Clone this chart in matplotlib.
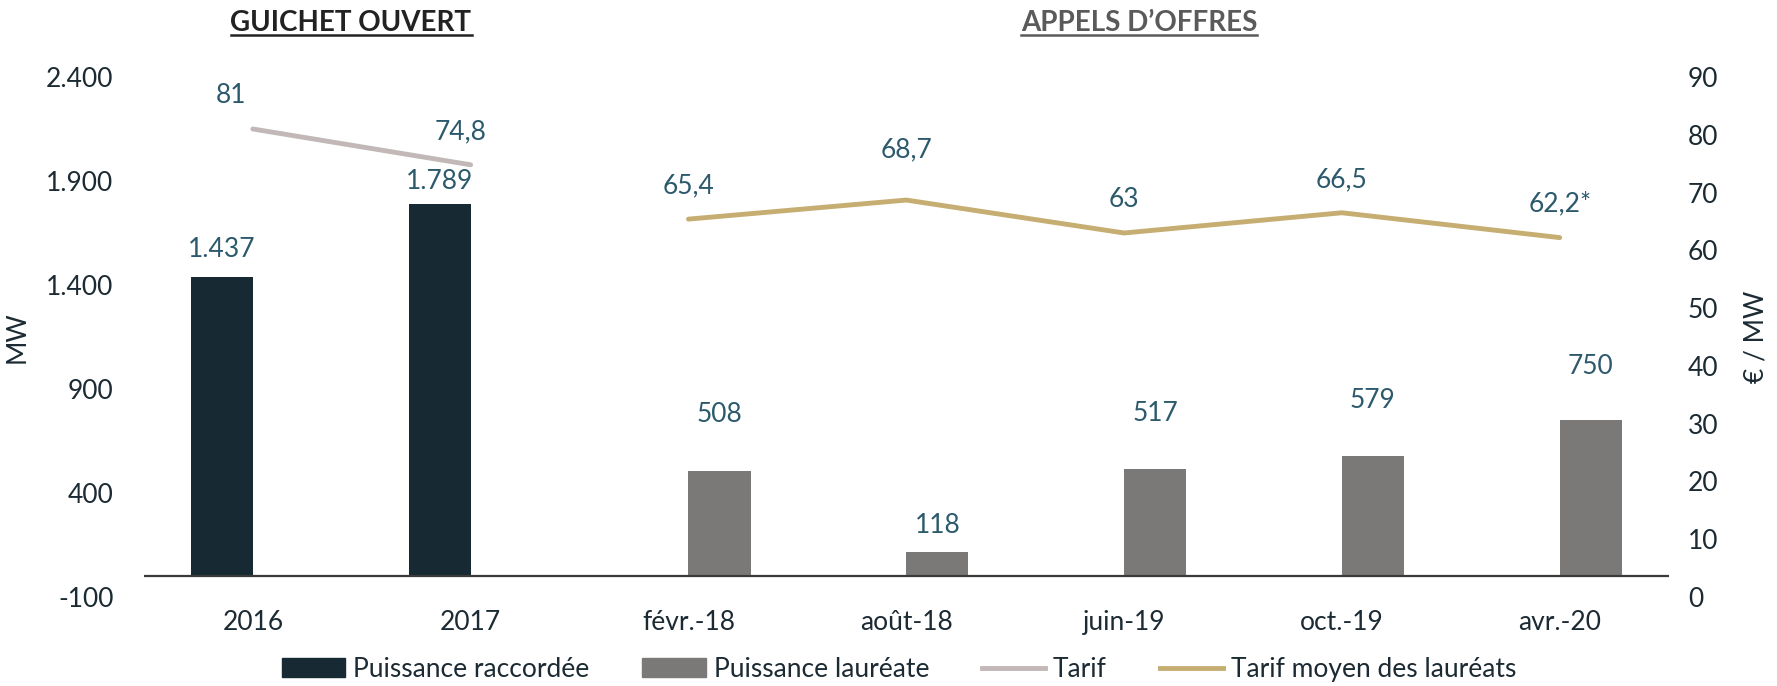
import matplotlib.pyplot as plt
import numpy as np
from matplotlib.lines import Line2D
from matplotlib.patches import Patch

#------------ donnees ----------
categories = ['2016', '2017', 'févr.-18', 'août-18', 'juin-19', 'oct.-19', 'avr.-20']
raccordee = [1437, 1789, None, None, None, None, None]
laureate = [None, None, 508, 118, 517, 579, 750]
tarif = [81, 74.8, None, None, None, None, None]
tarif_moyen = [None, None, 65.4, 68.7, 63, 66.5, 62.2]
tarif_moyen_txt = ['65,4', '68,7', '63', '66,5', '62,2*']
tarif_txt = ['81', '74,8']

#------------ styles ----------
c_racc = '#172a33'
c_laur = '#7b7977'
c_tarif = '#c2b8b8'
c_moy = '#c6ad72'
c_val = '#2c5a6c'
c_txt = '#1c2b33'

plt.rcParams['font.family'] = ['Lato', 'DejaVu Sans']
fs = 19

fig = plt.figure(figsize=(17.77, 6.86), dpi=100)
ax = fig.add_axes([0.081, 0.1297, 0.858, 0.7581])
ax2 = ax.twinx()

x = np.arange(len(categories))
w = 0.285

def fmt(v):
  return '{:,}'.format(v).replace(',', '.')

# barres
xr = [x[i] - w/2 for i in range(len(x)) if raccordee[i] is not None]
yr = [v for v in raccordee if v is not None]
xl = [x[i] + w/2 for i in range(len(x)) if laureate[i] is not None]
yl = [v for v in laureate if v is not None]
ax.bar(xr, yr, width=w, color=c_racc, zorder=2)
ax.bar(xl, yl, width=w, color=c_laur, zorder=2)
ax.axhline(0, color='#3a3a3a', lw=1.6, zorder=3)

# etiquettes des barres (decalage vertical en points)
dy_racc = [20, 16]
dy_laur = [40, 19, 40, 40, 39]
for xi, yi, d in zip(xr, yr, dy_racc):
  ax.annotate(fmt(yi), (xi, yi), xytext=(0, d), textcoords='offset points',
              ha='center', va='center', color=c_val, fontsize=fs)
for xi, yi, d in zip(xl, yl, dy_laur):
  ax.annotate(fmt(yi), (xi, yi), xytext=(0, d), textcoords='offset points',
              ha='center', va='center', color=c_val, fontsize=fs)

# courbes
xt = [x[i] for i in range(len(x)) if tarif[i] is not None]
yt = [v for v in tarif if v is not None]
xm = [x[i] for i in range(len(x)) if tarif_moyen[i] is not None]
ym = [v for v in tarif_moyen if v is not None]
ax2.plot(xt, yt, color=c_tarif, lw=3.5, solid_capstyle='round')
ax2.plot(xm, ym, color=c_moy, lw=3.5, solid_capstyle='round')

off_t = [(-16, 24), (-7, 24)]
off_m = [(0, 24), (0, 36), (0, 24), (0, 24), (0, 24)]
for xi, yi, s, o in zip(xt, yt, tarif_txt, off_t):
  ax2.annotate(s, (xi, yi), xytext=o, textcoords='offset points',
               ha='center', va='center', color=c_val, fontsize=fs)
for xi, yi, s, o in zip(xm, ym, tarif_moyen_txt, off_m):
  ax2.annotate(s, (xi, yi), xytext=o, textcoords='offset points',
               ha='center', va='center', color=c_val, fontsize=fs)

# axes
ax.set_xlim(-0.5, len(categories) - 0.5)
ax.set_ylim(-100, 2400)
ax2.set_ylim(0, 90)
ax.set_yticks([-100, 400, 900, 1400, 1900, 2400])
ax.set_yticklabels([fmt(v) for v in [-100, 400, 900, 1400, 1900, 2400]])
ax2.set_yticks(np.arange(0, 91, 10))
ax.set_xticks(x)
ax.set_xticklabels(categories)
for a in (ax, ax2):
  for s in a.spines.values():
    s.set_visible(False)
ax.tick_params(axis='both', length=0, labelsize=fs, colors=c_txt)
ax.tick_params(axis='y', pad=22)
ax.tick_params(axis='x', pad=9)
ax2.tick_params(axis='y', length=0, labelsize=fs, colors=c_txt, pad=14)
ax.set_ylabel('MW', fontsize=fs, color=c_txt, labelpad=12)
ax2.set_ylabel('€ / MW', fontsize=fs, color=c_txt, labelpad=18)

# titres soulignes
t1 = fig.text(351/1777, 1 - 23/686, 'GUICHET OUVERT', ha='center', va='center',
              fontsize=fs + 1, fontweight='bold', color='#222222')
t2 = fig.text(1139/1777, 1 - 23/686, 'APPELS D\u2019OFFRES', ha='center', va='center',
              fontsize=fs + 1, fontweight='bold', color='#5a5a5a')
fig.canvas.draw()
r = fig.canvas.get_renderer()
for t in (t1, t2):
  bb = t.get_window_extent(r).transformed(fig.transFigure.inverted())
  fig.add_artist(Line2D([bb.x0, bb.x1], [bb.y0 + 0.002, bb.y0 + 0.002],
                        transform=fig.transFigure, color=t.get_color(), lw=1.8))

# legende
handles = [Patch(color=c_racc), Patch(color=c_laur),
           Line2D([], [], color=c_tarif, lw=3.5), Line2D([], [], color=c_moy, lw=3.5)]
labels = ['Puissance raccordée', 'Puissance lauréate', 'Tarif', 'Tarif moyen des lauréats']
leg = fig.legend(handles, labels, loc='center', bbox_to_anchor=(0.506, 0.024), ncol=4,
                 frameon=False, fontsize=fs, handlelength=2.4, handleheight=0.75,
                 columnspacing=2.0, handletextpad=0.3)
for t in leg.get_texts():
  t.set_color(c_txt)

fig.savefig('out.png', dpi=100)
